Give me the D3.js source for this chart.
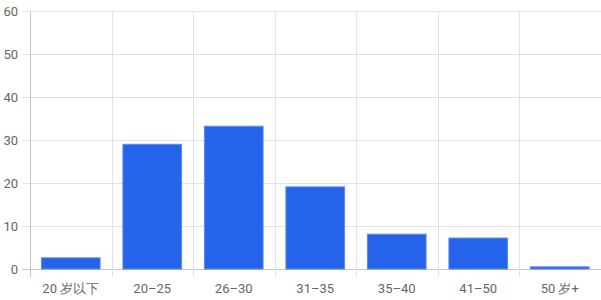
<!DOCTYPE html>
<html><head><meta charset="utf-8">
<script src="https://cdn.jsdelivr.net/npm/d3@7"></script>
<style>html,body{margin:0;padding:0;background:#fff;}svg{display:block;}</style>
</head><body>
<svg id="c" width="601" height="300"></svg>
<script>
const categories = ["20 岁以下", "20–25", "26–30", "31–35", "35–40", "41–50", "50 岁+"];
const values = [2.6, 29.0, 33.2, 19.1, 8.1, 7.2, 0.5];
const yTicks = [0, 10, 20, 30, 40, 50, 60];

const svg = d3.select("#c");
const m = {left: 30, right: 0.5, top: 11, bottom: 31};
const W = 601, H = 300;
const x = d3.scaleBand().domain(categories).range([m.left, W - m.right]).paddingInner(0).paddingOuter(0);
const y = d3.scaleLinear().domain([0, 60]).range([H - m.bottom, m.top]);
const font = "Roboto, 'Liberation Sans', Arial, sans-serif";

// horizontal grid
svg.append("g").selectAll("line").data(yTicks).join("line")
  .attr("x1", m.left - 8).attr("x2", W)
  .attr("y1", d => Math.round(y(d)) + 0.5).attr("y2", d => Math.round(y(d)) + 0.5)
  .attr("stroke", d => d === 0 ? "#c6c6c6" : "#e3e3e3").attr("stroke-width", 1);

// vertical grid at band boundaries
const bounds = categories.map(c => x(c)).concat([x.range()[1]]);
svg.append("g").selectAll("line").data(bounds).join("line")
  .attr("x1", (d) => Math.round(d) + 0.5).attr("x2", d => Math.round(d) + 0.5)
  .attr("y1", m.top).attr("y2", H - m.bottom + 8)
  .attr("stroke", (d, i) => i === 0 ? "#c6c6c6" : "#e3e3e3").attr("stroke-width", 1);

// bars
const bw = x.bandwidth() * 0.72;
svg.append("g").selectAll("rect").data(values).join("rect")
  .attr("x", (d, i) => x(categories[i]) + (x.bandwidth() - bw) / 2)
  .attr("y", d => y(d))
  .attr("width", bw)
  .attr("height", d => y(0) - y(d))
  .attr("fill", "#2563eb")
  .attr("stroke", "#5b8cf0").attr("stroke-width", 1);

// y labels
svg.append("g").selectAll("text").data(yTicks).join("text")
  .attr("x", m.left - 12).attr("y", d => y(d))
  .attr("dy", "0.35em").attr("text-anchor", "end")
  .attr("font-family", font).attr("font-size", 13).attr("fill", "#666")
  .text(d => d);

// x labels
svg.append("g").selectAll("text").data(categories).join("text")
  .attr("x", d => x(d) + x.bandwidth() / 2).attr("y", H - m.bottom + 19)
  .attr("dy", "0.35em").attr("text-anchor", "middle")
  .attr("font-family", font).attr("font-size", 13).attr("fill", "#666")
  .text(d => d);
</script>
</body></html>
